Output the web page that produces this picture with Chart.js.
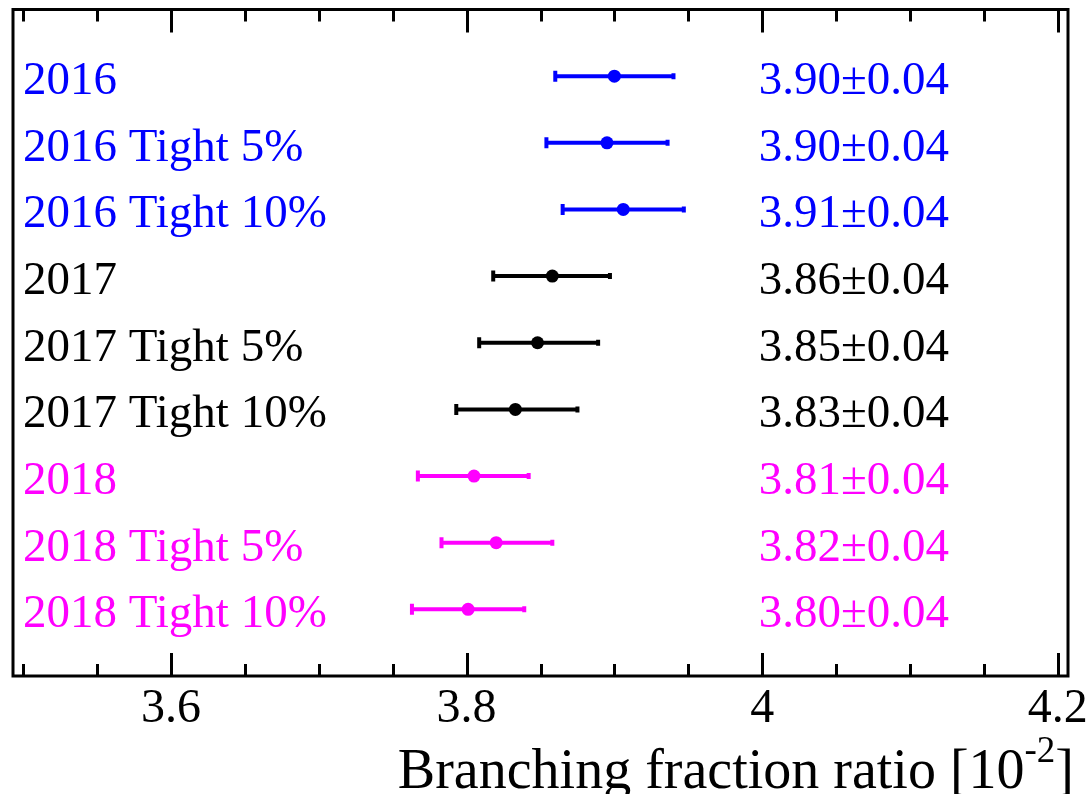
<!DOCTYPE html>
<html>
<head>
<meta charset="utf-8">
<script src="https://cdn.jsdelivr.net/npm/chart.js@4.4.0/dist/chart.umd.min.js"></script>
<style>
    html, body { margin: 0; padding: 0; background: #fff; }
    #wrap { width: 1089px; height: 794px; }
</style>
</head>
<body>
<div id="wrap"><canvas id="bfChart"></canvas></div>
<script>
/* ===================================
   BRANCHING FRACTION RATIO - FOREST PLOT
   =================================== */

// ===== DATA =====
const rowLabels = [
    '2016', '2016 Tight 5%', '2016 Tight 10%',
    '2017', '2017 Tight 5%', '2017 Tight 10%',
    '2018', '2018 Tight 5%', '2018 Tight 10%'
];
const rowGroups = ['2016', '2016', '2016', '2017', '2017', '2017', '2018', '2018', '2018'];
const centralValues = [3.900, 3.895, 3.906, 3.858, 3.848, 3.833, 3.805, 3.820, 3.801];
const errLow = [3.860, 3.854, 3.865, 3.818, 3.8085, 3.793, 3.767, 3.783, 3.763];
const errHigh = [3.940, 3.936, 3.947, 3.897, 3.889, 3.875, 3.842, 3.858, 3.839];
const valueTexts = [
    '3.90±0.04', '3.90±0.04', '3.91±0.04',
    '3.86±0.04', '3.85±0.04', '3.83±0.04',
    '3.81±0.04', '3.82±0.04', '3.80±0.04'
];
const xMin = 3.493;
const xMax = 4.207;
const xTickStep = 0.05;
const axisTitle = 'Branching fraction ratio [10';
const axisTitleSup = '-2';
const axisTitleEnd = ']';

const groupColors = {
    '2016': '#0000ff',
    '2017': '#000000',
    '2018': '#ff00ff'
};
const FONT = "'Liberation Serif', 'Times New Roman', serif";

function rowColor(i) {
    return groupColors[rowGroups[i]];
}

// ===== ERROR BAR DATASETS =====
const errorBarSets = rowLabels.map((label, i) => ({
    label: label,
    data: [{ x: errLow[i], y: i + 1 }, { x: errHigh[i], y: i + 1 }],
    showLine: true,
    borderColor: rowColor(i),
    borderWidth: 4,
    pointStyle: 'line',
    rotation: 90,
    pointRadius: [5.5, 3],
    pointBorderWidth: 4,
    pointBorderColor: rowColor(i),
    order: 2
}));

const centralSet = {
    label: 'central',
    data: centralValues.map((v, i) => ({ x: v, y: i + 1 })),
    pointRadius: 6.5,
    pointBackgroundColor: rowLabels.map((l, i) => rowColor(i)),
    pointBorderWidth: 0,
    order: 1
};

// ===== FRAME, INWARD TICKS, TEXT =====
const framePlugin = {
    id: 'frameAndText',
    afterDraw(chart) {
        const ctx = chart.ctx;
        const area = chart.chartArea;
        const xs = chart.scales.x;
        const ys = chart.scales.y;

        ctx.save();
        ctx.strokeStyle = '#000';
        ctx.lineWidth = 3;
        ctx.strokeRect(area.left, area.top, area.right - area.left, area.bottom - area.top);

        // ticks pointing inward, top and bottom
        xs.ticks.forEach(t => {
            const v = t.value;
            const major = Math.abs(v * 5 - Math.round(v * 5)) < 1e-6;
            const len = major ? 23 : 12;
            const px = Math.round(xs.getPixelForValue(v)) + 0.5;
            ctx.beginPath();
            ctx.moveTo(px, area.bottom);
            ctx.lineTo(px, area.bottom - len);
            ctx.moveTo(px, area.top);
            ctx.lineTo(px, area.top + len);
            ctx.stroke();
        });

        // row names and values
        ctx.font = '47px ' + FONT;
        ctx.textBaseline = 'alphabetic';
        rowLabels.forEach((label, i) => {
            const py = ys.getPixelForValue(i + 1) + 18;
            ctx.fillStyle = rowColor(i);
            ctx.textAlign = 'left';
            ctx.fillText(label, 23, py);
            ctx.textAlign = 'right';
            ctx.fillText(valueTexts[i], 949, py);
        });

        // axis title with superscript
        const mainFont = '56px ' + FONT;
        const supFont = '37px ' + FONT;
        ctx.fillStyle = '#000';
        ctx.textAlign = 'left';
        ctx.font = mainFont;
        const w1 = ctx.measureText(axisTitle).width;
        const w3 = ctx.measureText(axisTitleEnd).width;
        ctx.font = supFont;
        const w2 = ctx.measureText(axisTitleSup).width;
        const baseY = 788;
        let tx = 1074 - (w1 + w2 + w3);
        ctx.font = mainFont;
        ctx.fillText(axisTitle, tx, baseY);
        tx += w1;
        ctx.font = supFont;
        ctx.fillText(axisTitleSup, tx, baseY - 26);
        tx += w2;
        ctx.font = mainFont;
        ctx.fillText(axisTitleEnd, tx, baseY);
        ctx.restore();
    }
};

// ===== CHART =====
const bfChart = new Chart(document.getElementById('bfChart').getContext('2d'), {
    type: 'scatter',
    data: {
        datasets: [centralSet].concat(errorBarSets)
    },
    options: {
        responsive: true,
        maintainAspectRatio: false,
        animation: false,
        events: [],
        layout: {
            padding: { left: 13, right: 21, top: 7, bottom: 0 }
        },
        plugins: {
            legend: { display: false },
            tooltip: { enabled: false }
        },
        scales: {
            x: {
                type: 'linear',
                min: xMin,
                max: xMax,
                grid: { display: false },
                border: { display: false },
                afterFit: function(scale) {
                    scale.height = 118;
                    scale.paddingLeft = 0;
                    scale.paddingRight = 0;
                },
                ticks: {
                    stepSize: xTickStep,
                    includeBounds: false,
                    autoSkip: false,
                    maxRotation: 0,
                    padding: -3,
                    color: '#000',
                    font: { family: FONT, size: 48 },
                    callback: function(value) {
                        if (Math.abs(value * 5 - Math.round(value * 5)) > 1e-6) return '';
                        return String(+value.toFixed(1));
                    }
                }
            },
            y: {
                type: 'linear',
                min: 0,
                max: 10,
                reverse: true,
                display: false
            }
        }
    },
    plugins: [framePlugin]
});
</script>
</body>
</html>
